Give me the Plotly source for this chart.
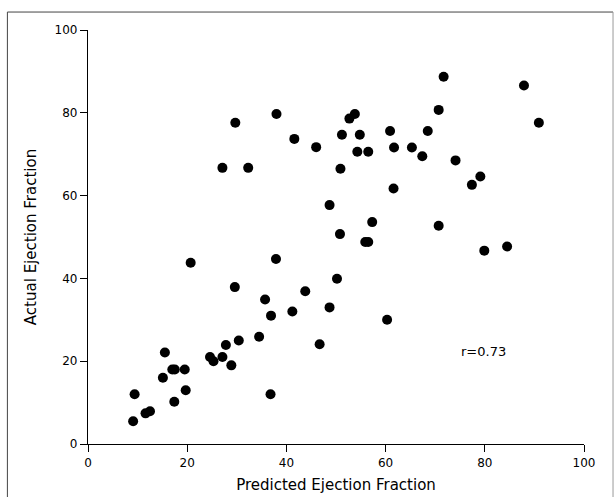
import plotly.graph_objects as go

predicted = [9.1, 9.4, 11.6, 12.5, 15.1, 15.5, 17.0, 17.5, 17.4, 19.5, 19.7, 20.7,
             24.6, 25.3, 27.1, 27.1, 27.8, 28.9, 29.6, 29.7, 30.4, 32.3, 34.5, 35.7,
             36.9, 36.8, 37.9, 38.0, 41.2, 41.6, 43.8, 46.0, 46.7, 48.7, 48.7, 50.2,
             50.8, 50.9, 51.2, 52.7, 53.8, 54.3, 54.8, 55.9, 56.5, 56.5, 57.3, 60.3,
             60.9, 61.7, 61.6, 65.3, 67.4, 68.5, 70.7, 70.7, 71.7, 74.1, 77.4, 79.1,
             79.9, 84.5, 87.9, 90.9]
actual = [5.5, 12.0, 7.4, 7.9, 16.0, 22.1, 18.0, 18.0, 10.2, 18.0, 13.0, 43.8,
          21.0, 20.0, 21.0, 66.7, 23.9, 19.0, 37.9, 77.6, 25.0, 66.7, 25.9, 34.9,
          31.0, 12.0, 44.7, 79.7, 32.0, 73.7, 36.9, 71.7, 24.1, 33.0, 57.7, 39.9,
          50.7, 66.5, 74.7, 78.6, 79.7, 70.6, 74.7, 48.8, 48.8, 70.6, 53.6, 30.0,
          75.6, 71.6, 61.7, 71.6, 69.5, 75.6, 80.7, 52.7, 88.7, 68.5, 62.6, 64.6,
          46.7, 47.7, 86.6, 77.6]
tick_vals = [0, 20, 40, 60, 80, 100]
x_title = "Predicted Ejection Fraction"
y_title = "Actual Ejection Fraction"
r_label = "r=0.73"

FONT = "DejaVu Sans"

fig = go.Figure()
fig.add_trace(go.Scatter(
    x=predicted, y=actual, mode="markers",
    marker=dict(color="black", size=10, line=dict(width=0)),
    showlegend=False, cliponaxis=False,
))

axis_common = dict(
    range=[0, 100], tickvals=tick_vals, ticks="outside", ticklen=7,
    tickwidth=1.2, tickcolor="black", showline=True, linecolor="black",
    linewidth=1.2, showgrid=False, zeroline=False, automargin=False,
    tickfont=dict(family=FONT, size=12, color="black"),
)
fig.update_xaxes(**axis_common,
                 title=dict(text=x_title, font=dict(family=FONT, size=15, color="black"), standoff=10))
fig.update_yaxes(**axis_common,
                 title=dict(text=y_title, font=dict(family=FONT, size=15, color="black"), standoff=14))

fig.add_annotation(x=74.8, y=22.3, xref="x", yref="y", text=r_label, showarrow=False,
                   xanchor="left", yanchor="middle",
                   font=dict(family=FONT, size=13, color="black"))

# outer frame of the figure (left, top and right edges of the scanned page)
fig.add_shape(type="line", xref="paper", yref="paper",
              x0=-0.1625, x1=-0.1625, y0=-0.3, y1=1.0434,
              line=dict(color="#444", width=1), layer="below")
fig.add_shape(type="line", xref="paper", yref="paper",
              x0=-0.1625, x1=1.0585, y0=1.0434, y1=1.0434,
              line=dict(color="#444", width=1), layer="below")
fig.add_shape(type="line", xref="paper", yref="paper",
              x0=1.0585, x1=1.0585, y0=-0.3, y1=1.0434,
              line=dict(color="#999", width=1), layer="below")

fig.update_layout(
    width=615, height=497,
    margin=dict(l=88, r=31, t=30, b=53),
    paper_bgcolor="white", plot_bgcolor="white",
    font=dict(family=FONT, color="black"),
)

post = (
    "var s=document.createElement('style');"
    "s.innerHTML='html,body{margin:0;padding:0;overflow:hidden;width:615px;height:497px;}"
    "body>div{display:block;height:497px;overflow:hidden;}';"
    "document.head.appendChild(s);"
)
fig.write_html("out.html", config={"displayModeBar": False}, post_script=post)
